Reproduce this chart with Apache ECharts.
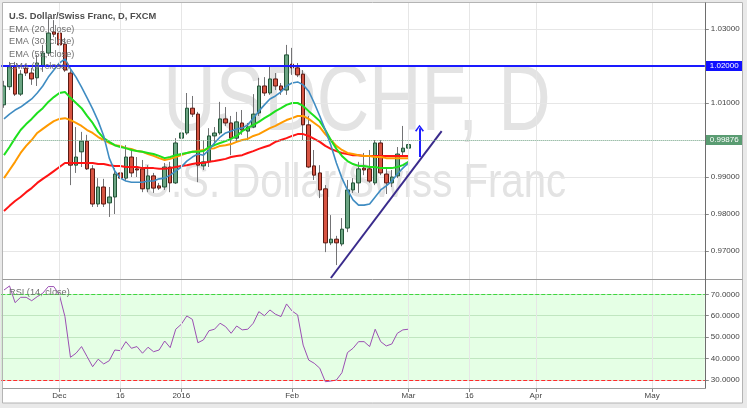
<!DOCTYPE html>
<html><head><meta charset="utf-8">
<script src="https://cdn.jsdelivr.net/npm/echarts@6/dist/echarts.min.js"></script>
<style>html,body{margin:0;padding:0;background:#e9e9e9}#c{width:747px;height:408px}</style>
</head><body><div id="c"></div>
<script>
// ---------- DATA ----------
const startDate = [2015, 10, 17];           // first trading day shown (Nov 17 2015)
const holidays = ['2015-12-25', '2016-01-01'];
const categoryCount = 127;                  // trading-day slots on the axis (incl. future)
const tickLabels = {
  '2015-12-01': 'Dec', '2015-12-16': '16', '2016-01-04': '2016', '2016-02-01': 'Feb',
  '2016-03-01': 'Mar', '2016-03-16': '16', '2016-04-01': 'Apr', '2016-05-02': 'May'
};
const open = [1.0095,1.0144,1.0198,1.0124,1.0194,1.0181,1.0168,1.0200,1.0235,1.0292,
  1.0289,1.0259,1.0181,0.9932,0.9968,0.9997,0.9922,0.9827,0.9873,0.9830,
  0.9846,0.9911,0.9897,0.9954,0.9922,0.9922,0.9868,0.9903,0.9876,0.9873,
  0.9927,0.9884,1.0005,1.0019,1.0086,1.0070,0.9930,0.9941,1.0011,1.0019,
  1.0057,1.0046,1.0005,1.0046,1.0024,1.0035,1.0073,1.0146,1.0127,1.0165,
  1.0146,1.0135,1.0205,1.0195,1.0178,1.0041,0.9930,0.9911,0.9868,0.9722,
  0.9732,0.9719,0.9762,0.9865,0.9884,0.9924,0.9922,0.9884,0.9992,0.9908,
  0.9884,0.9903,0.9968,0.9978];
const high = [1.0160,1.0211,1.0211,1.0189,1.0205,1.0195,1.0230,1.0257,1.0330,1.0324,
  1.0316,1.0276,1.0189,1.0035,1.0022,1.0014,0.9932,0.9897,0.9895,0.9873,
  0.9924,0.9919,0.9986,0.9973,0.9954,0.9946,0.9932,0.9911,0.9884,0.9938,
  0.9941,1.0005,1.0068,1.0127,1.0119,1.0076,1.0000,1.0032,1.0035,1.0103,
  1.0089,1.0065,1.0076,1.0081,1.0046,1.0124,1.0168,1.0170,1.0200,1.0181,
  1.0154,1.0257,1.0249,1.0208,1.0189,1.0065,0.9973,0.9932,0.9878,0.9797,
  0.9741,0.9789,0.9892,0.9897,0.9941,0.9965,0.9973,1.0000,1.0000,0.9924,
  0.9919,0.9981,1.0038,1.0008];
const low = [1.0087,1.0135,1.0119,1.0119,1.0173,1.0149,1.0146,1.0184,1.0227,1.0278,
  1.0251,1.0184,0.9878,0.9911,0.9927,0.9919,0.9819,0.9819,0.9819,0.9792,
  0.9800,0.9892,0.9889,0.9900,0.9900,0.9859,0.9859,0.9857,0.9865,0.9865,
  0.9859,0.9881,0.9986,1.0014,1.0062,0.9886,0.9919,0.9927,0.9986,1.0014,
  1.0038,0.9959,0.9997,1.0014,1.0000,1.0032,1.0065,1.0119,1.0122,1.0135,
  1.0122,1.0122,1.0176,1.0170,1.0000,0.9924,0.9892,0.9843,0.9697,0.9716,
  0.9662,0.9713,0.9751,0.9857,0.9857,0.9905,0.9884,0.9878,0.9905,0.9854,
  0.9873,0.9897,0.9954,0.9965];
const close = [1.0146,1.0198,1.0124,1.0178,1.0181,1.0165,1.0208,1.0235,1.0289,1.0286,
  1.0257,1.0189,0.9932,0.9954,0.9997,0.9922,0.9827,0.9873,0.9827,0.9846,
  0.9908,0.9897,0.9954,0.9911,0.9919,0.9868,0.9903,0.9870,0.9870,0.9927,
  0.9884,0.9992,1.0019,1.0086,1.0070,0.9932,0.9941,1.0011,1.0019,1.0057,
  1.0046,1.0005,1.0049,1.0027,1.0035,1.0070,1.0146,1.0127,1.0165,1.0146,
  1.0135,1.0230,1.0195,1.0176,1.0041,0.9927,0.9905,0.9865,0.9722,0.9732,
  0.9722,0.9759,0.9865,0.9884,0.9922,0.9919,0.9889,0.9992,0.9911,0.9884,
  0.9900,0.9962,0.9978,0.99876];
const ema9 = [1.0057,1.0070,1.0081,1.0089,1.0100,1.0111,1.0127,1.0146,1.0170,1.0189,
  1.0208,1.0219,1.0192,1.0170,1.0143,1.0114,1.0084,1.0051,1.0011,0.9951,
  0.9916,0.9897,0.9889,0.9886,0.9886,0.9886,0.9889,0.9889,0.9895,0.9897,
  0.9905,0.9916,0.9927,0.9943,0.9954,0.9962,0.9959,0.9973,0.9992,1.0008,
  1.0019,1.0024,1.0030,1.0032,1.0041,1.0059,1.0078,1.0095,1.0111,1.0119,
  1.0130,1.0146,1.0154,1.0157,1.0149,1.0132,1.0100,1.0065,1.0027,0.9986,
  0.9938,0.9897,0.9865,0.9838,0.9824,0.9824,0.9827,0.9846,0.9865,0.9876,
  0.9889,0.9908,0.9924,0.9938];
const ema20 = [0.9959,0.9981,1.0005,1.0027,1.0043,1.0057,1.0073,1.0086,1.0103,1.0116,
  1.0127,1.0130,1.0114,1.0100,1.0086,1.0065,1.0046,1.0022,1.0005,0.9995,
  0.9986,0.9981,0.9978,0.9973,0.9970,0.9968,0.9965,0.9962,0.9957,0.9951,
  0.9954,0.9959,0.9962,0.9965,0.9968,0.9968,0.9970,0.9981,0.9986,0.9992,
  0.9997,1.0003,1.0011,1.0024,1.0032,1.0041,1.0049,1.0059,1.0068,1.0078,
  1.0086,1.0095,1.0100,1.0100,1.0092,1.0078,1.0065,1.0051,1.0027,1.0000,
  0.9976,0.9957,0.9943,0.9935,0.9930,0.9930,0.9927,0.9927,0.9924,0.9924,
  0.9924,0.9927,0.9932,0.9941];
const ema30 = [0.9897,0.9919,0.9941,0.9965,0.9984,1.0000,1.0019,1.0030,1.0041,1.0051,
  1.0057,1.0059,1.0054,1.0046,1.0038,1.0027,1.0019,1.0008,1.0000,0.9992,
  0.9986,0.9984,0.9978,0.9976,0.9970,0.9968,0.9962,0.9957,0.9951,0.9946,
  0.9949,0.9954,0.9959,0.9965,0.9968,0.9970,0.9973,0.9976,0.9978,0.9984,
  0.9986,0.9989,0.9995,1.0000,1.0003,1.0011,1.0016,1.0024,1.0032,1.0038,
  1.0046,1.0054,1.0059,1.0065,1.0065,1.0057,1.0046,1.0035,1.0016,1.0000,
  0.9984,0.9973,0.9965,0.9962,0.9959,0.9957,0.9957,0.9954,0.9954,0.9951,
  0.9951,0.9951,0.9951,0.9951];
const ema55 = [0.9808,0.9822,0.9835,0.9846,0.9859,0.9870,0.9884,0.9895,0.9905,0.9916,
  0.9927,0.9938,0.9938,0.9938,0.9938,0.9938,0.9938,0.9935,0.9935,0.9932,
  0.9930,0.9930,0.9927,0.9927,0.9927,0.9924,0.9924,0.9924,0.9922,0.9922,
  0.9924,0.9927,0.9930,0.9932,0.9935,0.9938,0.9938,0.9941,0.9943,0.9946,
  0.9949,0.9954,0.9957,0.9959,0.9965,0.9970,0.9976,0.9981,0.9986,0.9995,
  1.0000,1.0005,1.0011,1.0016,1.0016,1.0011,1.0003,0.9995,0.9984,0.9976,
  0.9970,0.9965,0.9962,0.9959,0.9959,0.9957,0.9957,0.9957,0.9957,0.9957,
  0.9957,0.9957,0.9957,0.9957];
const rsi = [72.0,73.9,66.1,68.6,68.6,67.0,68.9,70.5,73.6,73.6,
  69.7,59.6,40.6,42.5,45.6,40.9,36.2,39.7,37.5,39.0,
  44.0,43.7,47.9,44.8,45.6,42.5,45.3,43.2,44.0,48.2,
  45.1,53.7,56.0,59.9,58.3,47.4,48.7,53.0,53.7,56.5,
  54.9,51.8,55.2,53.4,53.7,56.5,61.9,60.0,62.7,60.7,
  59.6,65.5,62.2,60.4,46.3,39.3,37.8,35.5,29.2,29.5,
  30.0,33.4,42.8,44.8,47.9,47.9,45.6,53.7,47.9,45.9,
  46.8,51.8,53.4,53.7];
const resistance = 1.02;
const lastClose = 0.99876;
const trendDates = ['2016-02-10', '2016-03-09'];
const trendValues = [0.9627, 1.0024];
const arrowDate = '2016-03-03';
const arrowValues = [0.9954, 1.0032];
const rsiLevels = [30, 70];

// ---------- BUILD ----------
const dates = [];
(function () {
  const d = new Date(Date.UTC(startDate[0], startDate[1], startDate[2]));
  while (dates.length < categoryCount) {
    const wd = d.getUTCDay();
    const s = d.toISOString().slice(0, 10);
    if (wd !== 0 && wd !== 6 && holidays.indexOf(s) < 0) dates.push(s);
    d.setUTCDate(d.getUTCDate() + 1);
  }
})();
const tickDates = Object.keys(tickLabels);
const wickData = open.map((o, i) => [o, close[i], low[i], high[i]]);
const bodyData = open.map((o, i) => [o, close[i], Math.min(o, close[i]), Math.max(o, close[i])]);

const FONT = '"Liberation Sans", Arial, sans-serif';
const GL = 1.23, GR = 42.2;
const isTick = (idx, val) => tickLabels[val] !== undefined;
const chevron = 'path://M0,7 L5,0 L10,7 L8.5,8 L5,2.8 L1.5,8 Z';

const catAxis = (gi, extra) => Object.assign({
  type: 'category', gridIndex: gi, data: dates, boundaryGap: true, show: false
}, extra || {});

const option = {
  animation: false,
  backgroundColor: '#e9e9e9',
  grid: [
    { left: GL, right: GR, top: 3, height: 276 },
    { left: GL, right: GR, top: 29, height: 222 },
    { left: GL, right: GR, top: 280, height: 108 },
    { left: GL, right: GR, top: 294.3, height: 85.7 }
  ],
  xAxis: [
    catAxis(0), catAxis(1),
    catAxis(2, {
      show: true,
      axisLine: { show: false },
      axisTick: { show: true, alignWithLabel: true, interval: isTick, length: 4, lineStyle: { color: '#888' } },
      axisLabel: { interval: isTick, formatter: v => tickLabels[v], fontSize: 8, fontFamily: FONT, color: '#444', margin: 4 },
      splitLine: { show: false }
    }),
    catAxis(3)
  ],
  yAxis: [
    { type: 'value', gridIndex: 0, min: 0, max: 1, show: false },
    { type: 'value', gridIndex: 1, position: 'right', min: 0.97, max: 1.03, interval: 0.01,
      axisLine: { show: false },
      axisTick: { show: true, length: 4, lineStyle: { color: '#888' } },
      axisLabel: { fontSize: 8, fontFamily: FONT, color: '#444', margin: 6, formatter: v => v.toFixed(5) },
      splitLine: { lineStyle: { color: '#e6e6e6' } } },
    { type: 'value', gridIndex: 2, min: 0, max: 1, show: false },
    { type: 'value', gridIndex: 3, position: 'right', min: 30, max: 70, interval: 10,
      axisLine: { show: false },
      axisTick: { show: true, length: 4, lineStyle: { color: '#888' } },
      axisLabel: { fontSize: 8, fontFamily: FONT, color: '#444', margin: 6, formatter: v => v.toFixed(4) },
      splitLine: { lineStyle: { color: '#d6e4d6' } } }
  ],
  series: [
    { type: 'line', xAxisIndex: 0, yAxisIndex: 0, data: [], z: 1, silent: true,
      markLine: { silent: true, symbol: 'none', label: { show: false },
        lineStyle: { color: '#e6e6e6', width: 1, type: 'solid' },
        data: tickDates.map(d => ({ xAxis: d })) } },
    { type: 'line', xAxisIndex: 2, yAxisIndex: 2, data: [], z: 1, silent: true,
      markLine: { silent: true, symbol: 'none', label: { show: false },
        lineStyle: { color: '#e6e6e6', width: 1, type: 'solid' },
        data: tickDates.map(d => ({ xAxis: d })) } },
    { type: 'candlestick', xAxisIndex: 1, yAxisIndex: 1, data: wickData, barWidth: 1, clip: false, z: 2, silent: true,
      itemStyle: { color: '#737375', color0: '#737375', borderColor: '#737375', borderColor0: '#737375', borderWidth: 1 } },
    { type: 'candlestick', xAxisIndex: 1, yAxisIndex: 1, data: bodyData, barWidth: 4, clip: false, z: 3, silent: true,
      itemStyle: { color: '#6ba583', color0: '#d75442', borderColor: '#225437', borderColor0: '#5b1a13', borderWidth: 1 },
      markLine: { silent: true, symbol: 'none', z: 6,
        data: [
          { yAxis: resistance, lineStyle: { color: '#1a1aff', width: 2, type: 'solid' },
            label: { show: true, position: 'end', distance: 1, formatter: resistance.toFixed(5), color: '#fff',
              backgroundColor: '#1010ff', padding: [1, 4, 1, 4], fontSize: 8, fontFamily: FONT } },
          { yAxis: lastClose, lineStyle: { color: '#86b89a', width: 1, type: 'dotted' },
            label: { show: true, position: 'end', distance: 1, formatter: lastClose.toFixed(5), color: '#fff',
              backgroundColor: '#5a9c72', padding: [1, 4, 1, 4], fontSize: 8, fontFamily: FONT } }
        ] } },
    { type: 'line', xAxisIndex: 1, yAxisIndex: 1, data: ema55, symbol: 'none', clip: false, z: 4, silent: true,
      lineStyle: { color: '#ff1414', width: 2 } },
    { type: 'line', xAxisIndex: 1, yAxisIndex: 1, data: ema30, symbol: 'none', clip: false, z: 4, silent: true,
      lineStyle: { color: '#ff9a00', width: 2 } },
    { type: 'line', xAxisIndex: 1, yAxisIndex: 1, data: ema20, symbol: 'none', clip: false, z: 4, silent: true,
      lineStyle: { color: '#1ee01e', width: 2 } },
    { type: 'line', xAxisIndex: 1, yAxisIndex: 1, data: ema9, symbol: 'none', clip: false, z: 4, silent: true,
      lineStyle: { color: '#3f8cc2', width: 1.6 } },
    { type: 'line', xAxisIndex: 1, yAxisIndex: 1, symbol: 'none', clip: false, z: 5, silent: true,
      data: trendDates.map((d, i) => [d, trendValues[i]]),
      lineStyle: { color: '#3a2b8c', width: 2 },
      markLine: { silent: true, label: { show: false },
        lineStyle: { color: '#1f1fff', width: 2, type: 'solid' },
        data: [[
          { coord: [arrowDate, arrowValues[0]], symbol: 'none' },
          { coord: [arrowDate, arrowValues[1]], symbol: chevron, symbolSize: [9, 7] }
        ]] } },
    { type: 'line', xAxisIndex: 3, yAxisIndex: 3, data: rsi, symbol: 'none', clip: false, z: 4, silent: true,
      lineStyle: { color: '#9b4fb3', width: 1 },
      markArea: { silent: true, itemStyle: { color: 'rgba(0,255,0,0.10)' },
        data: [[{ yAxis: rsiLevels[0] }, { yAxis: rsiLevels[1] }]] },
      markLine: { silent: true, symbol: 'none', label: { show: false },
        data: [
          { yAxis: rsiLevels[1], lineStyle: { color: '#3ed63e', width: 1, type: 'dashed' } },
          { yAxis: rsiLevels[0], lineStyle: { color: '#ff2a2a', width: 1, type: 'dashed' } }
        ] } }
  ],
  graphic: [
    { type: 'rect', z: -10, silent: true, shape: { x: 2, y: 2, width: 741, height: 401 }, style: { fill: '#ffffff' } },
    { type: 'text', z: -5, silent: true, x: 357, y: 105, scaleX: 0.79,
      style: { text: 'USDCHF, D', fontSize: 92, fontFamily: FONT, fill: '#e3e3e3',
        textAlign: 'center', textVerticalAlign: 'middle', align: 'center', verticalAlign: 'middle' } },
    { type: 'text', z: -5, silent: true, x: 354, y: 183, scaleX: 0.82,
      style: { text: 'U.S. Dollar/Swiss Franc', fontSize: 49, fontFamily: FONT, fill: '#e3e3e3',
        textAlign: 'center', textVerticalAlign: 'middle', align: 'center', verticalAlign: 'middle' } },
    { type: 'text', z: 50, silent: true, x: 9, y: 16,
      style: { text: 'U.S. Dollar/Swiss Franc, D, FXCM', fontSize: 9.3, fontWeight: 'bold', fontFamily: FONT, fill: '#4d4d4d',
        textVerticalAlign: 'middle', verticalAlign: 'middle' } },
    { type: 'text', z: 50, silent: true, x: 9, y: 29.3,
      style: { text: 'EMA (20, close)', fontSize: 9.2, fontFamily: FONT, fill: '#707070', textVerticalAlign: 'middle', verticalAlign: 'middle' } },
    { type: 'text', z: 50, silent: true, x: 9, y: 41.7,
      style: { text: 'EMA (30, close)', fontSize: 9.2, fontFamily: FONT, fill: '#707070', textVerticalAlign: 'middle', verticalAlign: 'middle' } },
    { type: 'text', z: 50, silent: true, x: 9, y: 54,
      style: { text: 'EMA (55, close)', fontSize: 9.2, fontFamily: FONT, fill: '#707070', textVerticalAlign: 'middle', verticalAlign: 'middle' } },
    { type: 'text', z: 50, silent: true, x: 9, y: 66.7,
      style: { text: 'EMA (9, close)', fontSize: 9.2, fontFamily: FONT, fill: '#707070', textVerticalAlign: 'middle', verticalAlign: 'middle' } },
    { type: 'text', z: 50, silent: true, x: 9, y: 292.7,
      style: { text: 'RSI (14, close)', fontSize: 9.2, fontFamily: FONT, fill: '#707070', textVerticalAlign: 'middle', verticalAlign: 'middle' } },
    { type: 'rect', z: 100, silent: true, shape: { x: 2.5, y: 2.5, width: 740, height: 400.5 }, style: { fill: 'none', stroke: '#b4b4b4', lineWidth: 1 } },
    { type: 'line', z: 100, silent: true, shape: { x1: 2.5, y1: 279.5, x2: 742.5, y2: 279.5 }, style: { stroke: '#9a9a9a', lineWidth: 1 } },
    { type: 'line', z: 100, silent: true, shape: { x1: 2.5, y1: 388.5, x2: 705.5, y2: 388.5 }, style: { stroke: '#9a9a9a', lineWidth: 1 } },
    { type: 'line', z: 100, silent: true, shape: { x1: 705.5, y1: 2.5, x2: 705.5, y2: 388.5 }, style: { stroke: '#6e6e6e', lineWidth: 1 } }
  ]
};
const chart = echarts.init(document.getElementById('c'));
chart.setOption(option);
</script>
</body></html>
